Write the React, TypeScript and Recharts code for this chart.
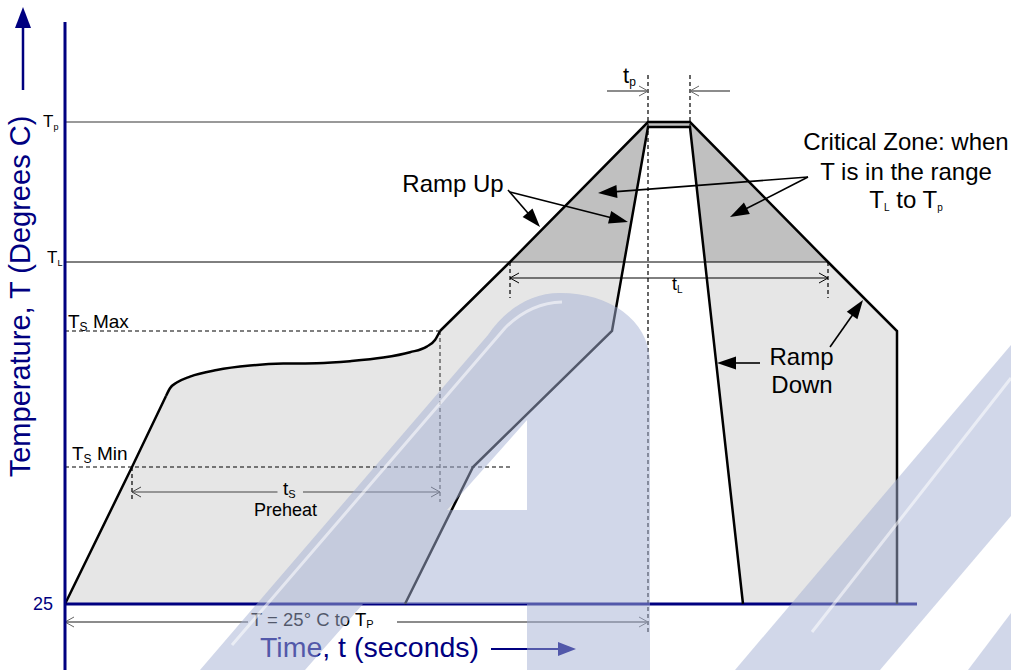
import React from 'react';
import { ComposedChart, XAxis, YAxis, Area, Line, ReferenceLine, ReferenceDot } from 'recharts';

const FONT = '"Liberation Sans", Arial, Helvetica, sans-serif';
const NAVY = '#000080';

// temperature levels (schematic units)
const T_ROOM = 25;
const T_SMIN = 93.5;
const T_SMAX = 161.5;
const T_L = 196;
const T_P = 266;
const T_P_INNER = 263.5;

// key times (schematic seconds)
const T_SMIN_TIME = 26.8;
const T_SMAX_TIME = 150;
const T_L_RISE = 178;
const T_P_START = 233.2;
const T_P_END = 250;
const T_L_FALL = 305.2;
const T_AXIS_END = 340.8;

// outer (maximum) profile
const outerTimes = [0, 26.8, 40.4, 42, 44.7, 50, 60.7, 74, 87.3, 100.7, 114, 127.3, 138, 144.7, 148, 150, 178, 233.2, 250, 305.2, 332.8, 332.8];
const outerTemps = [25, 93.5, 129, 132.9, 135.7, 138.7, 142, 144.2, 145.2, 145.4, 146.4, 148.2, 150.9, 153.7, 157, 161.5, 196, 266, 266, 196, 161.5, 25];
// soak portion of the outer profile (smooth)
const soakTimes = [40.4, 42, 44.7, 50, 60.7, 74, 87.3, 100.7, 114, 127.3, 138, 144.7, 148, 150];
const soakTemps = [129, 132.9, 135.7, 138.7, 142, 144.2, 145.2, 145.4, 146.4, 148.2, 150.9, 153.7, 157, 161.5];
// inner (minimum) profile
const innerTimes = [136, 163.2, 218.8, 233.2, 250, 271.2];
const innerTemps = [25, 93.5, 161.5, 263.5, 263.5, 25];
// critical zone (above T_L)
const critTimes = [178, 233.2, 250, 305.2];
const critTemps = [196, 266, 266, 196];

// y tick labels
const yTickValues = [T_ROOM, T_L, T_P];
const yTickMain = ['25', 'T', 'T'];
const yTickSub = ['', 'L', 'p'];

const zip = (ts: number[], vs: number[]) => ts.map((t, i) => ({ t, T: vs[i] }));
const outerData = zip(outerTimes, outerTemps);
const soakData = zip(soakTimes, soakTemps);
const riseData = zip(outerTimes.slice(0, 3), outerTemps.slice(0, 3));
const peakData = zip(outerTimes.slice(15), outerTemps.slice(15));
const innerData = zip(innerTimes, innerTemps);
const critData = zip(critTimes, critTemps);

type Head = 'none' | 'solid' | 'open';
interface ArrowStyle {
  stroke: string;
  width: number;
  dash?: string;
  start?: Head;
  end?: Head;
  len?: number;
  half?: number;
}

function arrowShape(o: ArrowStyle) {
  return (p: any) => {
    const x1 = Number(p.x1), y1 = Number(p.y1), x2 = Number(p.x2), y2 = Number(p.y2);
    const dx = x2 - x1, dy = y2 - y1;
    const L = Math.hypot(dx, dy) || 1;
    const ux = dx / L, uy = dy / L;
    const len = o.len ?? 9;
    const half = o.half ?? 5;
    let sx = x1, sy = y1, ex = x2, ey = y2;
    const parts: React.ReactNode[] = [];
    const mk = (tx: number, ty: number, dirx: number, diry: number, kind: Head, key: string) => {
      const bx = tx - dirx * len, by = ty - diry * len;
      const pnx = -diry, pny = dirx;
      const a = `${bx + pnx * half},${by + pny * half}`;
      const b = `${bx - pnx * half},${by - pny * half}`;
      if (kind === 'solid') {
        parts.push(<polygon key={key} points={`${tx},${ty} ${a} ${b}`} fill={o.stroke} stroke="none" />);
      } else if (kind === 'open') {
        parts.push(<polyline key={key} points={`${a} ${tx},${ty} ${b}`} fill="none" stroke={o.stroke} strokeWidth={1} />);
      }
    };
    if (o.end && o.end !== 'none') {
      mk(x2, y2, ux, uy, o.end, 'e');
      if (o.end === 'solid') { ex = x2 - ux * len * 0.8; ey = y2 - uy * len * 0.8; }
    }
    if (o.start && o.start !== 'none') {
      mk(x1, y1, -ux, -uy, o.start, 's');
      if (o.start === 'solid') { sx = x1 + ux * len * 0.8; sy = y1 + uy * len * 0.8; }
    }
    return (
      <g>
        <line x1={sx} y1={sy} x2={ex} y2={ey} stroke={o.stroke} strokeWidth={o.width} strokeDasharray={o.dash} />
        {parts}
      </g>
    );
  };
}

const seg = (key: string, a: [number, number], b: [number, number], style: ArrowStyle) => (
  <ReferenceLine
    key={key}
    segment={[{ x: a[0], y: a[1] }, { x: b[0], y: b[1] }]}
    ifOverflow="visible"
    shape={arrowShape(style)}
  />
);

const label = (key: string, x: number, y: number, render: (cx: number, cy: number) => React.ReactNode) => (
  <ReferenceDot
    key={key}
    x={x}
    y={y}
    r={0}
    ifOverflow="visible"
    shape={(p: any) => <g>{render(Number(p.cx), Number(p.cy))}</g>}
  />
);

function YTick(props: any) {
  const { x, y, payload } = props;
  const i = yTickValues.indexOf(payload.value);
  if (i < 0) return null;
  if (yTickSub[i] === '') {
    return (
      <text x={x - 12} y={y + 6} textAnchor="end" fill={NAVY} fontSize={18} fontFamily={FONT}>
        {yTickMain[i]}
      </text>
    );
  }
  const isP = yTickSub[i] === 'p';
  return (
    <text x={x - (isP ? 22 : 18)} y={y + (isP ? 5 : 1)} fill="#000" fontSize={17} fontFamily={FONT}>
      {yTickMain[i]}
      <tspan fontSize={9} dy={3}>{yTickSub[i]}</tspan>
    </text>
  );
}

const txt = (cx: number, cy: number, s: string, anchor: string = 'middle', size = 24, fill = '#000') => (
  <text x={cx} y={cy} textAnchor={anchor as any} fontSize={size} fontFamily={FONT} fill={fill}>{s}</text>
);

const dashBlack: ArrowStyle = { stroke: '#000', width: 1.2, dash: '4 3' };
const annArrow: ArrowStyle = { stroke: '#000', width: 1.6, end: 'solid', len: 19, half: 6.5 };

function Watermark() {
  const fill = '#a3b0d4';
  return (
    <svg width={1011} height={670} style={{ position: 'absolute', left: 0, top: 0, pointerEvents: 'none' }}>
      <path
        d="M200,670 L488,335 C505,310 530,293 560,293 C610,293 648,320 650,360 L650,670 L527,670 L527,604 L363,604 L305,670 Z M447,510 L527,420 L527,510 Z"
        fill={fill}
        fillOpacity={0.5}
        fillRule="evenodd"
      />
      <path d="M735,670 L880,670 L1011,516 L1011,345 Z" fill={fill} fillOpacity={0.5} />
      <path d="M968,670 L1011,670 L1011,613 Z" fill={fill} fillOpacity={0.5} />
      <path d="M232,645 L505,328 Q530,303 562,302" fill="none" stroke="#fff" strokeOpacity={0.55} strokeWidth={3} />
      <path d="M812,632 L1011,378" fill="none" stroke="#fff" strokeOpacity={0.55} strokeWidth={3} />
    </svg>
  );
}

export default function App() {
  return (
    <div style={{ position: 'absolute', left: 0, top: 0, width: 1011, height: 670, background: '#fff', overflow: 'hidden' }}>
      <ComposedChart width={1011} height={670} margin={{ top: 22, right: 46, bottom: 0, left: 5 }}>
        <XAxis type="number" dataKey="t" domain={[0, 360]} allowDataOverflow hide />
        <YAxis
          type="number"
          dataKey="T"
          domain={[-8, 316]}
          allowDataOverflow
          width={60}
          ticks={yTickValues}
          interval={0}
          tickLine={false}
          tickSize={0}
          tickMargin={0}
          axisLine={{ stroke: NAVY, strokeWidth: 3 }}
          tick={<YTick />}
        />

        <Area data={outerData} dataKey="T" type="linear" baseValue={T_ROOM} fill="#e6e6e6" fillOpacity={1} stroke="none" dot={false} activeDot={false} isAnimationActive={false} />
        <Area data={critData} dataKey="T" type="linear" baseValue={T_L} fill="#c0c0c0" fillOpacity={1} stroke="none" dot={false} activeDot={false} isAnimationActive={false} />
        <Area data={innerData} dataKey="T" type="linear" baseValue={T_ROOM} fill="#ffffff" fillOpacity={1} stroke="none" dot={false} activeDot={false} isAnimationActive={false} />

        {/* level lines */}
        {seg('tp-level', [0, T_P], [T_P_START, T_P], { stroke: '#777', width: 1.3 })}
        {seg('tl-level', [0, T_L], [T_L_FALL, T_L], { stroke: '#000', width: 1 })}
        {seg('tsmax-level', [0, T_SMAX], [T_SMAX_TIME, T_SMAX], dashBlack)}
        {seg('tsmin-level', [0, T_SMIN], [T_L_RISE, T_SMIN], dashBlack)}

        {/* dashed extension lines */}
        {seg('v-peak1', [T_P_START, 289.5], [T_P_START, 10], dashBlack)}
        {seg('v-peak2', [T_P_END, 289.5], [T_P_END, T_P_INNER], dashBlack)}
        {seg('v-tl1', [T_L_RISE, T_L], [T_L_RISE, 178], dashBlack)}
        {seg('v-tl2', [T_L_FALL, T_L], [T_L_FALL, 178], dashBlack)}
        {seg('v-ts1', [T_SMIN_TIME, T_SMIN], [T_SMIN_TIME, 76], { stroke: '#000', width: 1.2, dash: '4 3' })}
        {seg('v-ts2', [T_SMAX_TIME, T_SMAX], [T_SMAX_TIME, 76], { stroke: '#444', width: 1.2, dash: '4 3' })}

        {/* dimension arrows */}
        {seg('tp-left', [216.8, 281.5], [T_P_START, 281.5], { stroke: '#666', width: 1.5, end: 'open', len: 9, half: 5 })}
        {seg('tp-right', [266, 281.5], [T_P_END, 281.5], { stroke: '#666', width: 1.5, end: 'open', len: 9, half: 5 })}
        {seg('tl-dim', [T_L_RISE, 188], [T_L_FALL, 188], { stroke: '#000', width: 1, start: 'open', end: 'open', len: 9, half: 5 })}
        {seg('ts-dim-a', [T_SMIN_TIME, 81], [85, 81], { stroke: '#444', width: 1, start: 'open', len: 9, half: 5 })}
        {seg('ts-dim-b', [95.2, 81], [T_SMAX_TIME, 81], { stroke: '#444', width: 1, end: 'open', len: 9, half: 5 })}
        {seg('t25-dim-a', [0, 16], [73.2, 16], { stroke: '#666', width: 1.3, start: 'open', len: 9, half: 5 })}
        {seg('t25-dim-b', [132.8, 16], [T_P_START, 16], { stroke: '#666', width: 1.3, end: 'open', len: 9, half: 5 })}

        {/* baseline */}
        {seg('baseline', [0, T_ROOM], [T_AXIS_END, T_ROOM], { stroke: NAVY, width: 3 })}

        {/* profile outlines */}
        <Line data={riseData} dataKey="T" type="linear" stroke="#000" strokeWidth={2.5} dot={false} activeDot={false} isAnimationActive={false} />
        <Line data={soakData} dataKey="T" type="monotoneX" stroke="#000" strokeWidth={2.5} dot={false} activeDot={false} isAnimationActive={false} />
        <Line data={peakData} dataKey="T" type="linear" stroke="#000" strokeWidth={2.5} dot={false} activeDot={false} isAnimationActive={false} />
        <Line data={innerData} dataKey="T" type="linear" stroke="#000" strokeWidth={2.5} dot={false} activeDot={false} isAnimationActive={false} />

        {/* annotation arrows */}
        {seg('ru1', [177.2, 232], [190, 213.5], annArrow)}
        {seg('ru2', [178, 231], [225.2, 216], annArrow)}
        {seg('cz1', [297.2, 238.5], [213.2, 230.5], annArrow)}
        {seg('cz2', [297.2, 238.5], [266, 218.5], annArrow)}
        {seg('rd1', [278, 145.5], [260.8, 145.5], annArrow)}
        {seg('rd2', [306, 153.5], [319.2, 177], annArrow)}
        {seg('y-arrow', [-16.8, 282], [-16.8, 323.5], { stroke: NAVY, width: 2.5, end: 'solid', len: 21, half: 8 })}
        {seg('x-arrow', [170.4, 2.5], [204.4, 2.5], { stroke: NAVY, width: 2, end: 'solid', len: 18, half: 7 })}

        {/* texts */}
        {label('ramp-up', 155.2, 231, (x, y) => txt(x, y, 'Ramp Up'))}
        {label('cz-l1', 336.4, 252, (x, y) => txt(x, y, 'Critical Zone: when'))}
        {label('cz-l2', 336.4, 237, (x, y) => txt(x, y, 'T is in the range'))}
        {label('cz-l3', 336.4, 223, (x, y) => (
          <text x={x} y={y} textAnchor="middle" fontSize={24} fontFamily={FONT} fill="#000">
            T<tspan fontSize={10} dy={3}>L</tspan><tspan dy={-3}>{'  to T'}</tspan><tspan fontSize={10} dy={3}>p</tspan>
          </text>
        ))}
        {label('rd-l1', 294.6, 144.5, (x, y) => txt(x, y, 'Ramp'))}
        {label('rd-l2', 294.8, 130.5, (x, y) => txt(x, y, 'Down'))}
        {label('tp-lab', 223.2, 285.5, (x, y) => (
          <text x={x} y={y} fontSize={22} fontFamily={FONT} fill="#000">t<tspan fontSize={12} dy={3}>p</tspan></text>
        ))}
        {label('tl-lab', 242.8, 182, (x, y) => (
          <text x={x} y={y} fontSize={18} fontFamily={FONT} fill="#000">t<tspan fontSize={10} dy={3}>L</tspan></text>
        ))}
        {label('ts-lab', 87.2, 79.5, (x, y) => (
          <text x={x} y={y} fontSize={19} fontFamily={FONT} fill="#000">t<tspan fontSize={11} dy={3}>S</tspan></text>
        ))}
        {label('preheat', 88.2, 69, (x, y) => txt(x, y, 'Preheat', 'middle', 18))}
        {label('tsmax-lab', 1.2, 163, (x, y) => (
          <text x={x} y={y} fontSize={19} fontFamily={FONT} fill="#000">T<tspan fontSize={12} dy={3}>S</tspan><tspan dy={-3}> Max</tspan></text>
        ))}
        {label('tsmin-lab', 2.8, 97, (x, y) => (
          <text x={x} y={y} fontSize={19} fontFamily={FONT} fill="#000">T<tspan fontSize={12} dy={3}>S</tspan><tspan dy={-3}> Min</tspan></text>
        ))}
        {label('t25-lab', 74.4, 14, (x, y) => (
          <text x={x} y={y} fontSize={18.5} fontFamily={FONT} fill="#000">T = 25° C to T<tspan fontSize={11} dy={2}>P</tspan></text>
        ))}
        {label('x-title', 78, -1.5, (x, y) => txt(x, y, 'Time, t (seconds)', 'start', 28.5, NAVY))}
        {label('y-title', -14, 178.75, (x, y) => (
          <text x={x} y={y} textAnchor="middle" fontSize={29} fontFamily={FONT} fill={NAVY} transform={`rotate(-90, ${x}, ${y})`}>
            Temperature, T (Degrees C)
          </text>
        ))}
      </ComposedChart>
      <Watermark />
    </div>
  );
}
